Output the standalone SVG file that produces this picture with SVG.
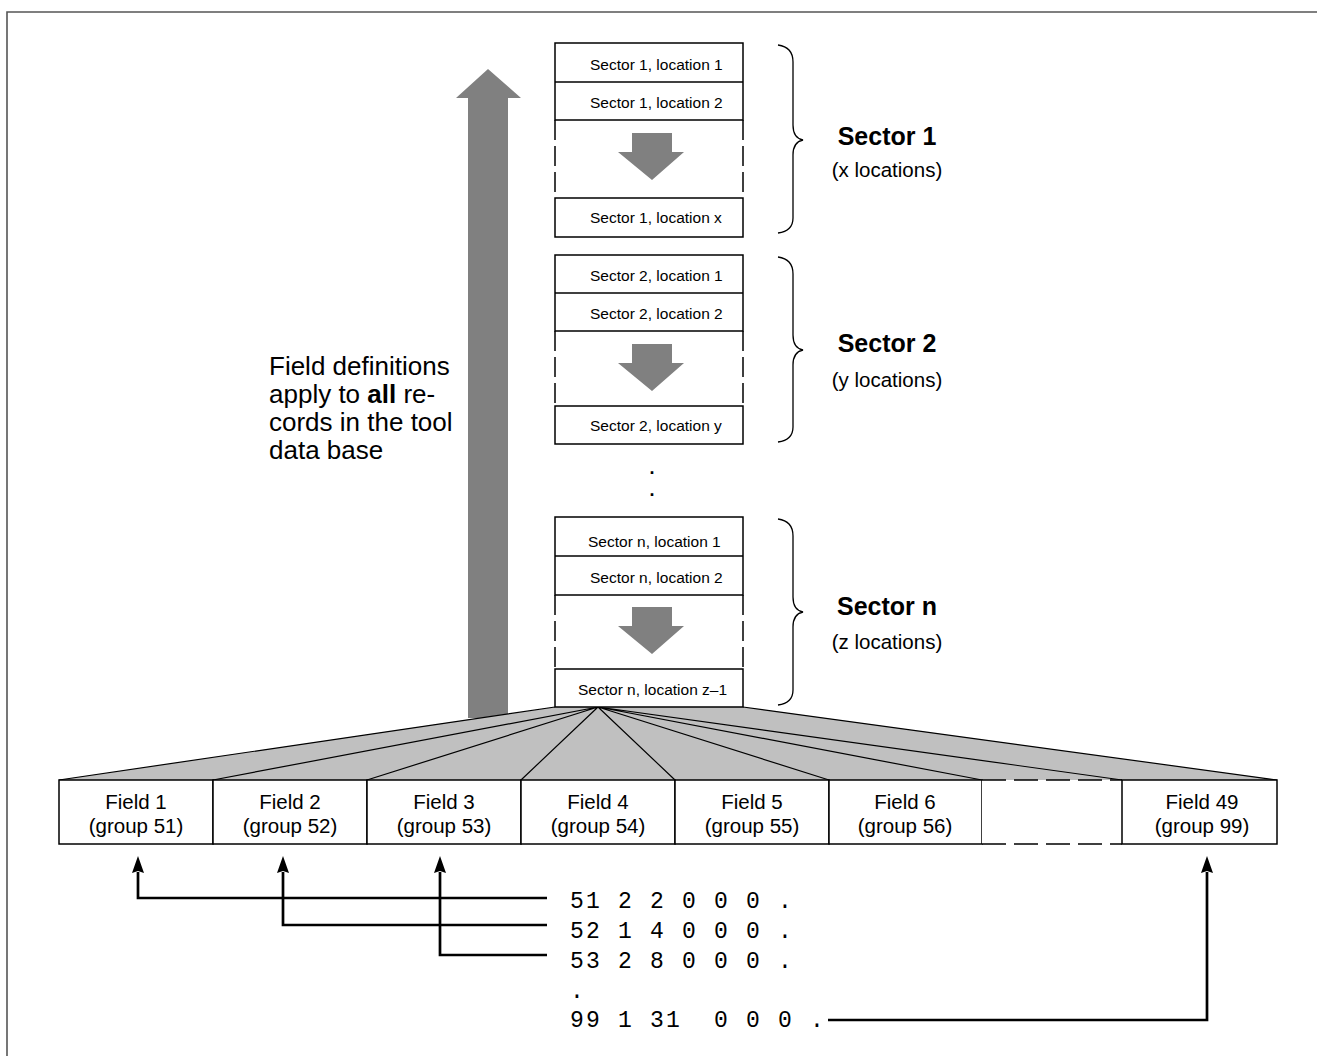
<svg xmlns="http://www.w3.org/2000/svg" width="1317" height="1056" viewBox="0 0 1317 1056">
  <defs>
    <style>
      .box { fill: #ffffff; stroke: #000000; stroke-width: 1.5; }
      .row { stroke: #000000; stroke-width: 1.5; fill: none; }
      .dash { stroke: #000000; stroke-width: 1.5; fill: none; stroke-dasharray: 20 6; }
      .fdash { stroke: #000000; stroke-width: 1.5; fill: none; stroke-dasharray: 24 8; }
      .loc { font-family: "Liberation Sans", Arial, sans-serif; font-size: 15.5px; fill: #000000; }
      .sec { font-family: "Liberation Sans", Arial, sans-serif; font-size: 25px; font-weight: bold; fill: #000000; text-anchor: middle; }
      .sub { font-family: "Liberation Sans", Arial, sans-serif; font-size: 20.5px; fill: #000000; text-anchor: middle; }
      .fld { font-family: "Liberation Sans", Arial, sans-serif; font-size: 20.5px; fill: #000000; text-anchor: middle; }
      .note { font-family: "Liberation Sans", Arial, sans-serif; font-size: 26px; fill: #000000; }
      .code { font-family: "Liberation Mono", "Courier New", monospace; font-size: 23px; letter-spacing: 2.2px; fill: #000000; }
      .dots { font-family: "Liberation Sans", Arial, sans-serif; font-size: 18px; font-weight: bold; fill: #000000; text-anchor: middle; }
      .brace { fill: none; stroke: #000000; stroke-width: 1.3; }
      .down { fill: #808080; }
      .conn { fill: none; stroke: #000000; stroke-width: 2.7; }
      .fan { stroke: #000000; stroke-width: 1.2; fill: none; }
    </style>
    <!-- solid arrowhead, base at the line end, tip 17px beyond -->
    <marker id="head" markerUnits="userSpaceOnUse" markerWidth="18" markerHeight="13" refX="1" refY="6.5" orient="auto" viewBox="0 0 18 13">
      <path d="M0,0.5 L17,6.5 L0,12.5 L2,6.5 Z" fill="#000000"/>
    </marker>
  </defs>

  <!-- frame (top and left edges) -->
  <path d="M7,1056 L7,12 L1317,12" fill="none" stroke="#555555" stroke-width="1.6"/>

  <!-- big upward arrow -->
  <g id="apply-arrow">
    <path class="down" d="M468,718 L468,98 L456,98 L488,69 L521,98 L508,98 L508,718 Z"/>
  </g>

  <g id="note">
    <text class="note" x="269" y="375">Field definitions</text>
    <text class="note" x="269" y="403">apply to <tspan font-weight="bold">all</tspan> re-</text>
    <text class="note" x="269" y="431">cords in the tool</text>
    <text class="note" x="269" y="459">data base</text>
  </g>

  <!-- fan from the record to its fields, and group-record pointers -->
  <g id="connectors">
    <path d="M555,707 L743,707 L1277,780 L59,780 Z" fill="#c0c0c0" stroke="none"/>
    <path class="fan" d="M555,707 L59,780 M598,707 L213,780 M598,707 L367,780 M598,707 L521,780 M598,707 L675,780 M598,707 L829,780 M598,707 L982,780 M598,707 L1122,780 M743,707 L1277,780"/>

    <path class="conn" d="M547,898 L138,898 L138,872" marker-end="url(#head)"/>
    <path class="conn" d="M547,925 L283,925 L283,872" marker-end="url(#head)"/>
    <path class="conn" d="M547,955 L440,955 L440,872" marker-end="url(#head)"/>
    <path class="conn" d="M828,1020 L1207,1020 L1207,872" marker-end="url(#head)"/>
  </g>

  <!-- Sector 1 -->
  <g id="sector-1">
    <path class="box" d="M555,43 H743 V120 H555 Z"/>
    <line class="row" x1="555" y1="82" x2="743" y2="82"/>
    <line class="dash" x1="555" y1="120" x2="555" y2="198"/>
    <line class="dash" x1="743" y1="120" x2="743" y2="198"/>
    <path class="box" d="M555,198 H743 V237 H555 Z"/>
    <path class="down" d="M632,133 H672 V152 H684 L652,180 L618,152 H632 Z"/>
    <text class="loc" x="590" y="70">Sector 1, location 1</text>
    <text class="loc" x="590" y="108">Sector 1, location 2</text>
    <text class="loc" x="590" y="223">Sector 1, location x</text>
    <path class="brace" d="M778,45 Q793,47 793,62 V125 Q793,138 803,140 Q793,142 793,155 V218 Q793,231 778,233"/>
    <text class="sec" x="887" y="145">Sector 1</text>
    <text class="sub" x="887" y="177">(x locations)</text>
  </g>

  <!-- Sector 2 -->
  <g id="sector-2">
    <path class="box" d="M555,255 H743 V331 H555 Z"/>
    <line class="row" x1="555" y1="293" x2="743" y2="293"/>
    <line class="dash" x1="555" y1="331" x2="555" y2="406"/>
    <line class="dash" x1="743" y1="331" x2="743" y2="406"/>
    <path class="box" d="M555,406 H743 V444 H555 Z"/>
    <path class="down" d="M632,344 H672 V363 H684 L652,391 L618,363 H632 Z"/>
    <text class="loc" x="590" y="281">Sector 2, location 1</text>
    <text class="loc" x="590" y="319">Sector 2, location 2</text>
    <text class="loc" x="590" y="431">Sector 2, location y</text>
    <path class="brace" d="M778,257 Q793,259 793,274 V335 Q793,348 803,350 Q793,352 793,365 V427 Q793,440 778,442"/>
    <text class="sec" x="887" y="352">Sector 2</text>
    <text class="sub" x="887" y="387">(y locations)</text>
  </g>

  <g id="ellipsis">
    <text class="dots" x="652" y="474">.</text>
    <text class="dots" x="652" y="496">.</text>
  </g>

  <!-- Sector n -->
  <g id="sector-n">
    <path class="box" d="M555,517 H743 V595 H555 Z"/>
    <line class="row" x1="555" y1="556" x2="743" y2="556"/>
    <line class="dash" x1="555" y1="595" x2="555" y2="669"/>
    <line class="dash" x1="743" y1="595" x2="743" y2="669"/>
    <path class="box" d="M555,669 H743 V707 H555 Z"/>
    <path class="down" d="M632,607 H672 V626 H684 L652,654 L618,626 H632 Z"/>
    <text class="loc" x="588" y="547">Sector n, location 1</text>
    <text class="loc" x="590" y="583">Sector n, location 2</text>
    <text class="loc" x="578" y="695">Sector n, location z–1</text>
    <path class="brace" d="M778,519 Q793,521 793,536 V597 Q793,610 803,612 Q793,614 793,627 V690 Q793,703 778,705"/>
    <text class="sec" x="887" y="615">Sector n</text>
    <text class="sub" x="887" y="649">(z locations)</text>
  </g>

  <!-- fields -->
  <g id="field-1">
    <rect class="box" x="59" y="780" width="154" height="64"/>
    <text class="fld" x="136" y="809">Field 1</text>
    <text class="fld" x="136" y="833">(group 51)</text>
  </g>
  <g id="field-2">
    <rect class="box" x="213" y="780" width="154" height="64"/>
    <text class="fld" x="290" y="809">Field 2</text>
    <text class="fld" x="290" y="833">(group 52)</text>
  </g>
  <g id="field-3">
    <rect class="box" x="367" y="780" width="154" height="64"/>
    <text class="fld" x="444" y="809">Field 3</text>
    <text class="fld" x="444" y="833">(group 53)</text>
  </g>
  <g id="field-4">
    <rect class="box" x="521" y="780" width="154" height="64"/>
    <text class="fld" x="598" y="809">Field 4</text>
    <text class="fld" x="598" y="833">(group 54)</text>
  </g>
  <g id="field-5">
    <rect class="box" x="675" y="780" width="154" height="64"/>
    <text class="fld" x="752" y="809">Field 5</text>
    <text class="fld" x="752" y="833">(group 55)</text>
  </g>
  <g id="field-6">
    <rect class="box" x="829" y="780" width="153" height="64"/>
    <text class="fld" x="905" y="809">Field 6</text>
    <text class="fld" x="905" y="833">(group 56)</text>
  </g>
  <g id="field-gap">
    <rect x="982" y="780" width="140" height="64" fill="#ffffff"/>
    <line class="fdash" x1="982" y1="780" x2="1122" y2="780"/>
    <line class="fdash" x1="982" y1="844" x2="1122" y2="844"/>
  </g>
  <g id="field-49">
    <rect class="box" x="1122" y="780" width="155" height="64"/>
    <text class="fld" x="1202" y="809">Field 49</text>
    <text class="fld" x="1202" y="833">(group 99)</text>
  </g>

  <!-- group records -->
  <g id="records">
    <text class="code" x="570" y="908" xml:space="preserve">51 2 2 0 0 0 .</text>
    <text class="code" x="570" y="938" xml:space="preserve">52 1 4 0 0 0 .</text>
    <text class="code" x="570" y="968" xml:space="preserve">53 2 8 0 0 0 .</text>
    <text class="code" x="570" y="998">.</text>
    <text class="code" x="570" y="1027" xml:space="preserve">99 1 31  0 0 0 .</text>
  </g>
</svg>
